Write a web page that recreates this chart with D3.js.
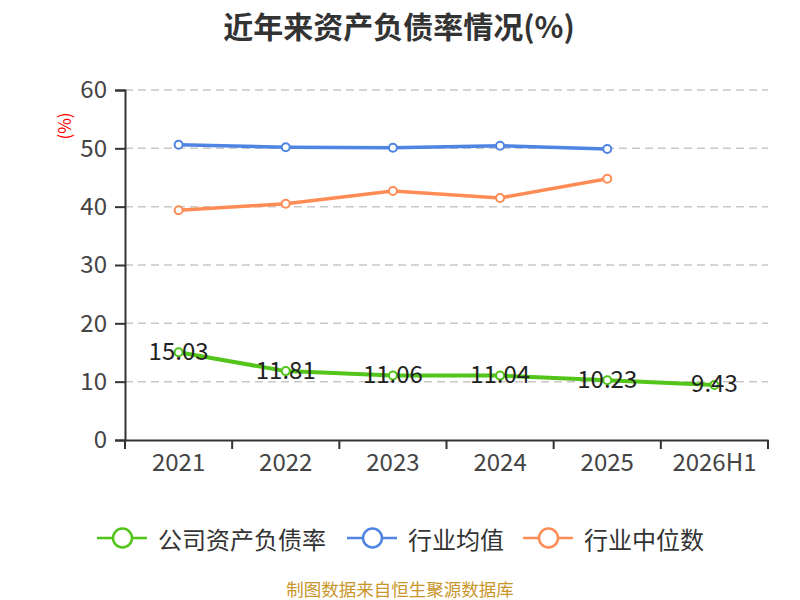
<!DOCTYPE html>
<html>
<head>
<meta charset="utf-8">
<script src="https://cdn.jsdelivr.net/npm/d3@7/dist/d3.min.js"></script>
<style>
html,body{margin:0;padding:0;background:#fff;}
svg{display:block;font-family:"Noto Sans CJK SC","Noto Sans",sans-serif;}
</style>
</head>
<body>
<svg id="chart" width="800" height="600"></svg>
<script>
const categories = ["2021","2022","2023","2024","2025","2026H1"];
const companyRate = [15.03, 11.81, 11.06, 11.04, 10.23, 9.43];
const industryAvg = [50.6, 50.2, 50.1, 50.45, 49.9];
const industryMedian = [39.4, 40.5, 42.7, 41.5, 44.8];
const yTicks = [0,10,20,30,40,50,60];
const seriesNames = ["公司资产负债率","行业均值","行业中位数"];
const colors = ["#52c41a","#4f84e2","#ff8c55"];

(function(){
const svg = d3.select("#chart");
const pLeft = 125, pRight = 768, pTop = 90, pBottom = 440;

const x = d3.scaleBand().domain(categories).range([pLeft, pRight]);
const y = d3.scaleLinear().domain([0,60]).range([pBottom, pTop]);

// title
svg.append("text").attr("x",399).attr("y",25).attr("text-anchor","middle")
  .attr("dominant-baseline","central").attr("font-size",30).attr("font-weight","bold")
  .attr("fill","#333").text("近年来资产负债率情况(%)");

// gridlines
svg.append("g").selectAll("line").data(yTicks.filter(d=>d>0)).join("line")
  .attr("x1",pLeft).attr("x2",pRight).attr("y1",d=>y(d)).attr("y2",d=>y(d))
  .attr("stroke","#c8c8c8").attr("stroke-width",1.5).attr("stroke-dasharray","8,5");

// y axis
const yAxis = svg.append("g").attr("transform",`translate(${pLeft},0)`)
  .call(d3.axisLeft(y).tickValues(yTicks).tickSize(10).tickPadding(8));
yAxis.select(".domain").attr("stroke","#333").attr("stroke-width",2);
yAxis.selectAll(".tick line").attr("stroke","#333").attr("stroke-width",2);
yAxis.selectAll(".tick text").attr("font-size",24).attr("fill","#444")
  .attr("font-family","'Noto Sans CJK SC',sans-serif");

// y unit label
svg.append("text").attr("transform","translate(63,126) rotate(-90)")
  .attr("text-anchor","middle").attr("dominant-baseline","central")
  .attr("font-size",17).attr("fill","#ff0000").text("(%)");

// x axis
const xAxis = svg.append("g").attr("transform",`translate(0,${pBottom})`)
  .call(d3.axisBottom(x).tickSize(0).tickPadding(14));
xAxis.select(".domain").attr("stroke","#333").attr("stroke-width",2);
xAxis.selectAll(".tick text").attr("font-size",24).attr("fill","#444")
  .attr("font-family","'Noto Sans CJK SC',sans-serif");
// boundary ticks
const bounds = categories.map(c=>x(c)).concat([pRight]);
svg.append("g").selectAll("line").data(bounds).join("line")
  .attr("x1",d=>d).attr("x2",d=>d).attr("y1",pBottom).attr("y2",pBottom+9)
  .attr("stroke","#333").attr("stroke-width",2);

const cx = c => x(c) + x.bandwidth()/2;
const line = d3.line().x(d=>cx(d.c)).y(d=>y(d.v));

function drawSeries(vals, color, lw, r){
  const data = vals.map((v,i)=>({c:categories[i], v}));
  svg.append("path").datum(data).attr("d",line).attr("fill","none")
    .attr("stroke",color).attr("stroke-width",lw).attr("stroke-linejoin","round");
  svg.append("g").selectAll("circle").data(data).join("circle")
    .attr("cx",d=>cx(d.c)).attr("cy",d=>y(d.v)).attr("r",r)
    .attr("fill","#fff").attr("stroke",color).attr("stroke-width",2);
  return data;
}

drawSeries(industryAvg, colors[1], 3.5, 4);
drawSeries(industryMedian, colors[2], 3.5, 4);
const comp = drawSeries(companyRate, colors[0], 4, 4);

svg.append("g").selectAll("text").data(comp).join("text")
  .attr("x",d=>cx(d.c)).attr("y",d=>y(d.v)-3)
  .attr("text-anchor","middle").attr("dominant-baseline","central")
  .attr("font-size",24).attr("fill","#222").text(d=>d.v.toFixed(2));

// legend
const legendItems = [
  {name:seriesNames[0], color:colors[0], x:97},
  {name:seriesNames[1], color:colors[1], x:347},
  {name:seriesNames[2], color:colors[2], x:523}
];
const lg = svg.append("g").selectAll("g").data(legendItems).join("g")
  .attr("transform",d=>`translate(${d.x},538)`);
lg.append("line").attr("x1",0).attr("x2",50).attr("y1",0).attr("y2",0)
  .attr("stroke",d=>d.color).attr("stroke-width",2.5);
lg.append("circle").attr("cx",25.5).attr("cy",0).attr("r",9.5)
  .attr("fill","#fff").attr("stroke",d=>d.color).attr("stroke-width",2.5);
lg.append("text").attr("x",61).attr("y",0).attr("dominant-baseline","central")
  .attr("font-size",24).attr("fill","#333").text(d=>d.name);

// footer
svg.append("text").attr("x",400).attr("y",588).attr("text-anchor","middle")
  .attr("dominant-baseline","central").attr("font-size",17.5).attr("fill","#c9962a")
  .text("制图数据来自恒生聚源数据库");
})();
</script>
</body>
</html>
